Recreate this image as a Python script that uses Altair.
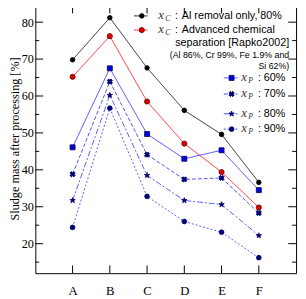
import altair as alt
import pandas as pd

categories = ["A", "B", "C", "D", "E", "F"]
al_only = [69.8, 81.2, 67.6, 56.1, 49.6, 36.6]
advanced = [65.2, 76.2, 58.5, 47.1, 39.4, 29.8]
xp60 = [46.1, 67.5, 49.7, 43.0, 45.3, 34.5]
xp70 = [38.8, 63.9, 44.1, 37.4, 37.8, 28.3]
xp80 = [31.7, 60.2, 38.5, 31.7, 30.6, 22.2]
xp90 = [24.4, 56.7, 32.8, 26.0, 23.1, 16.2]

y_major = [20, 30, 40, 50, 60, 70, 80]
y_minor = [15, 25, 35, 45, 55, 65, 75]

W, H = 267, 276
STAR = "M0,-1L0.235,-0.324L0.951,-0.309L0.38,0.124L0.588,0.809L0,0.4L-0.588,0.809L-0.38,0.124L-0.951,-0.309L-0.235,-0.324Z"

xscale = alt.Scale(type="point", domain=categories, padding=1)
yscale = alt.Scale(domain=[12, 85], nice=False, zero=False)

x_axis = alt.Axis(
    ticks=False, domain=False, grid=False, labelAngle=0,
    labelFont="Liberation Serif", labelFontSize=13, labelColor="black",
    labelPadding=12, title=None)
y_axis = alt.Axis(
    values=y_major, ticks=False, domain=False, grid=False,
    labelFont="Liberation Serif", labelFontSize=12.5, labelColor="black",
    labelPadding=2, title="Sludge mass after processing [%]",
    titleFont="Liberation Serif", titleFontSize=12.5, titleFontWeight="normal",
    titleColor="black", titlePadding=0)


def X():
    return alt.X("cat:N", scale=xscale, axis=x_axis, title=None)


def Y():
    return alt.Y("value:Q", scale=yscale, axis=y_axis,
                 title="Sludge mass after processing [%]")


def series(vals, line_color, dash, shape, fill, stroke, size, angle=0):
    df = pd.DataFrame({"cat": categories, "value": vals})
    base = alt.Chart(df)
    line = base.mark_line(color=line_color, strokeWidth=1, strokeDash=dash).encode(x=X(), y=Y())
    pts = base.mark_point(shape=shape, filled=True, fill=fill, stroke=stroke,
                          strokeWidth=0.8, size=size, opacity=1, angle=angle).encode(x=X(), y=Y())
    return [line, pts]


layers = []
layers += series(al_only, "#222222", [1, 0], "circle", "black", "black", 22)
layers += series(advanced, "#ff2a2a", [1, 0], "circle", "#e00000", "#600000", 28)
layers += series(xp60, "#4444ff", [1, 0], "square", "#0000e6", "#000050", 26)
layers += series(xp70, "#5050ff", [4, 2], "cross", "#000070", "#000070", 30, 45)
layers += series(xp80, "#5a5aff", [6, 2, 2, 2], STAR, "#000070", "#000070", 34)
layers += series(xp90, "#5a5aff", [2, 2], "circle", "#000070", "#000070", 24)

# inward ticks on all four sides
ymaj = pd.DataFrame({"value": y_major})
ymin = pd.DataFrame({"value": y_minor})
xt = pd.DataFrame({"cat": categories})
for d, ln in [(ymaj, 8), (ymin, 4)]:
    layers.append(alt.Chart(d).mark_rule(color="black", strokeWidth=1).encode(
        y=Y(), x=alt.value(0), x2=alt.value(ln)))
    layers.append(alt.Chart(d).mark_rule(color="black", strokeWidth=1).encode(
        y=Y(), x=alt.value(W - ln), x2=alt.value(W)))
layers.append(alt.Chart(xt).mark_rule(color="black", strokeWidth=1).encode(
    x=X(), y=alt.value(H), y2=alt.value(H - 8)))
layers.append(alt.Chart(xt).mark_rule(color="black", strokeWidth=1).encode(
    x=X(), y=alt.value(0), y2=alt.value(10)))

# legend
one = pd.DataFrame({"a": [0]})


def txt(s, x, y, size=11, font="Liberation Sans", style="normal", align="left", color="black"):
    return alt.Chart(one).mark_text(text=s, font=font, fontSize=size, fontStyle=style,
                                    align=align, baseline="middle", color=color).encode(
        x=alt.value(x), y=alt.value(y))


def sample(x1, x2, y, color, dash, shape, fill, stroke, size, angle=0):
    out = [alt.Chart(one).mark_rule(color=color, strokeWidth=1, strokeDash=dash).encode(
        x=alt.value(x1), x2=alt.value(x2), y=alt.value(y))]
    out.append(alt.Chart(one).mark_point(shape=shape, filled=True, fill=fill, stroke=stroke,
                                         strokeWidth=0.8, size=size, opacity=1, angle=angle).encode(
        x=alt.value((x1 + x2) / 2 + 1), y=alt.value(y)))
    return out


def xsym(x, y, sub):
    return [txt("x", x, y - 1, size=13, font="Liberation Serif", style="italic", color="#333333"),
            txt(sub, x + 7, y + 3, size=8, font="Liberation Serif", style="italic", color="#333333")]


r1, r2 = 12.5, 27
layers += sample(101, 115, r1, "#222222", [1, 0], "circle", "black", "black", 22)
layers += xsym(126, r1, "C") + [txt(":", 143, r1), txt("Al removal only, 80%", 150, r1)]
layers += sample(101, 115, r2, "#ff2a2a", [1, 0], "circle", "#e00000", "#600000", 28)
layers += xsym(126, r2, "C") + [txt(":", 143, r2), txt("Advanced chemical", 150, r2)]
layers.append(txt("separation  [Rapko2002]", 260, 40, align="right"))
layers.append(txt("(Al 86%, Cr 99%, Fe 1.9% and", 260, 53, size=9, align="right"))
layers.append(txt("Si 62%)", 260, 63.5, size=9, align="right"))

rows = [(76, "60%", [1, 0], "square", "#0000e6", "#000050", 26, 0),
        (92.5, "70%", [4, 2], "cross", "#000070", "#000070", 30, 45),
        (112.8, "80%", [6, 2, 2, 2], STAR, "#000070", "#000070", 34, 0),
        (128.5, "90%", [2, 2], "circle", "#000070", "#000070", 24, 0)]
for y, lab, dash, shp, fl, st, sz, ang in rows:
    layers += sample(193, 207, y, "#4444ff", dash, shp, fl, st, sz, ang)
    layers += xsym(211, y, "P") + [txt(":", 228, y), txt(lab, 234, y)]

chart = alt.layer(*layers).properties(
    width=W, height=H,
    padding={"left": 28, "top": -8, "right": 2, "bottom": 30},
    autosize=alt.AutoSizeParams(type="none"),
    background="white",
).configure_view(stroke="black", strokeWidth=1)

chart.save("out.html", embed_options={"renderer": "svg", "actions": False})
